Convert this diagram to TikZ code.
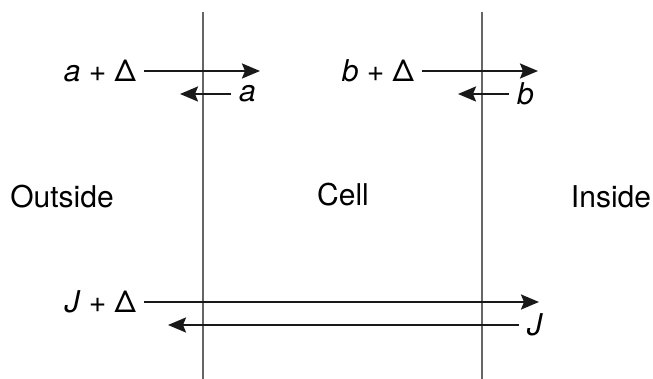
\documentclass[tikz,border=0pt]{standalone}
\usepackage{fontspec}
\setmainfont{TeX Gyre Heros}
\usetikzlibrary{arrows.meta}

\tikzset{
  lbl/.style={inner sep=0pt, outer sep=4pt, font=\fontsize{15pt}{18pt}\selectfont},
  flux/.style={-{Stealth[length=9pt,width=7.5pt,inset=1.5pt]}, line width=1.1pt, black!90},
  wall/.style={black!60, line width=0.6pt}
}

\begin{document}
\begin{tikzpicture}[x=0.5pt, y=-0.5pt]
            \useasboundingbox (0,0) rectangle (653,379);

            % membranes
            \draw[wall] (203,12) -- (203,379);
            \draw[wall] (482,12) -- (482,379);

            % compartments
            \node[lbl] (outside) at (62,197) {Outside};
            \node[lbl] (cell) at (343,195) {Cell};
            \node[lbl] (inside) at (611,197) {Inside};

            % outer membrane fluxes
            \node[lbl, anchor=east] (aplus) at (144,71) {\textit{a} + Δ};
            \coordinate (aR) at (260,71);
            \draw[flux] (aplus) -- (aR);
            \node[lbl, anchor=west] (a) at (231,94) {\textit{a}};
            \coordinate (aL) at (180,94);
            \draw[flux] (a) -- (aL);

            % inner membrane fluxes
            \node[lbl, anchor=east] (bplus) at (422,71) {\textit{b} + Δ};
            \coordinate (bR) at (538,71);
            \draw[flux] (bplus) -- (bR);
            \node[lbl, anchor=west] (b) at (509,94) {\textit{b}};
            \coordinate (bL) at (458,94);
            \draw[flux] (b) -- (bL);

            % net flux
            \node[lbl, anchor=east] (Jplus) at (144,302) {\textit{J} + Δ};
            \coordinate (JR) at (539,302);
            \draw[flux] (Jplus) -- (JR);
            \node[lbl, anchor=west] (J) at (519,325) {\textit{J}};
            \coordinate (JL) at (168,325);
            \draw[flux] (J) -- (JL);
        \end{tikzpicture}
\end{document}
